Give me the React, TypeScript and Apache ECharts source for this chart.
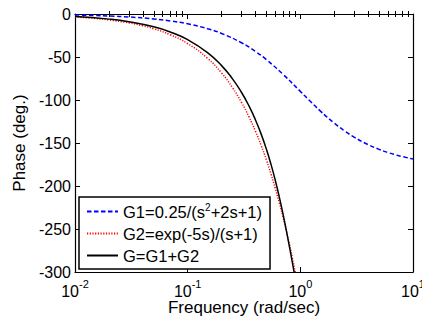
import React, { useEffect, useRef } from "react";
import * as echarts from "echarts";

// Frequencies (rad/sec) and phase readings (deg.)
const wG1 = [0.01, 0.015, 0.02, 0.03, 0.05, 0.07, 0.1, 0.15, 0.2, 0.3, 0.4, 0.5, 0.7, 1, 1.2, 1.5, 2, 2.5, 3, 4, 5, 6, 7, 8, 10];
const phaseG1 = [-1.15, -1.72, -2.29, -3.44, -5.72, -8.01, -11.42, -17.06, -22.62, -33.4, -43.6, -53.13, -69.98, -90, -100.39, -112.62, -126.87, -136.4, -143.13, -151.93, -157.38, -161.08, -163.74, -165.75, -168.58];

const wG2 = [0.01, 0.015, 0.02, 0.03, 0.04, 0.05, 0.07, 0.1, 0.15, 0.2, 0.25, 0.3, 0.35, 0.4, 0.45, 0.5, 0.55, 0.6, 0.65, 0.7, 0.75, 0.8, 0.85, 0.9, 0.95];
const phaseG2 = [-3.44, -5.15, -6.88, -10.31, -13.75, -17.19, -24.06, -34.36, -51.5, -68.61, -85.66, -102.64, -119.56, -136.39, -153.15, -169.81, -186.37, -202.85, -219.23, -235.53, -251.73, -267.84, -283.87, -299.82, -315.69];

const wG = [0.01, 0.02, 0.03, 0.05, 0.07, 0.1, 0.15, 0.2, 0.25, 0.3, 0.35, 0.4, 0.45, 0.5, 0.55, 0.6, 0.65, 0.7, 0.75, 0.8, 0.85, 0.9];
const phaseG = [-2.98, -5.96, -8.94, -14.9, -20.87, -29.86, -44.87, -60.02, -75.39, -90.98, -106.9, -123.19, -139.98, -157.28, -175.18, -193.65, -212.61, -231.87, -251.23, -270.37, -289.06, -307.11];

const seriesNames = ["G1=0.25/(s^2+2s+1)", "G2=exp(-5s)/(s+1)", "G=G1+G2"];
const majorTicks = [0.01, 0.1, 1, 10];
const minorTicks = [0.02, 0.03, 0.04, 0.05, 0.06, 0.07, 0.08, 0.09, 0.2, 0.3, 0.4, 0.5, 0.6, 0.7, 0.8, 0.9, 2, 3, 4, 5, 6, 7, 8, 9];
const yTicks = { min: -300, max: 0, interval: 50 };

const FONT = '"Liberation Sans", Arial, sans-serif';

function zip(xs: number[], ys: number[]) {
  return xs.map((x, i) => [x, ys[i]]);
}

export default function App() {
  const ref = useRef<HTMLDivElement>(null);
  useEffect(() => {
    if (!ref.current) return;
    const chart = echarts.init(ref.current, null, { renderer: "svg" });
    const baseX = {
      type: "log" as const,
      logBase: 10,
      min: 0.01,
      max: 10,
      splitLine: { show: false },
      minorTick: { show: false },
    };
    const option = {
      animation: false,
      backgroundColor: "#fff",
      textStyle: { fontFamily: FONT },
      grid: { left: 75, right: 9, top: 14, bottom: 48, containLabel: false, outerBoundsMode: "none" },
      legend: {
        show: true,
        orient: "vertical",
        left: 79,
        top: 197,
        padding: [5, 8, 5, 7],
        itemWidth: 31,
        itemHeight: 14,
        itemGap: 5,
        borderColor: "#000",
        borderWidth: 1.5,
        backgroundColor: "#fff",
        data: seriesNames,
        itemStyle: { opacity: 0, borderWidth: 0 },
        formatter: (name: string) => name.replace("s^2", "s{sup|2}"),
        textStyle: {
          fontFamily: FONT,
          fontSize: 16.5,
          color: "#000",
          lineHeight: 17,
          rich: {
            sup: { fontSize: 10, fontFamily: FONT, color: "#000", padding: [0, 0, 9, 0] },
          },
        },
      },
      xAxis: [
        {
          ...baseX,
          position: "bottom",
          name: "Frequency (rad/sec)",
          nameLocation: "middle",
          nameGap: 27,
          nameMoveOverlap: false,
          nameTextStyle: { fontFamily: FONT, fontSize: 17, color: "#000" },
          axisLine: { show: true, onZero: false, lineStyle: { color: "#000", width: 1.2 } },
          axisTick: { show: true, inside: true, length: 5, lineStyle: { color: "#000" }, customValues: majorTicks },
          axisLabel: {
            show: true,
            margin: 6,
            customValues: majorTicks,
            formatter: (v: number) => `{b|10}{s|${Math.round(Math.log10(v))}}`,
            rich: {
              b: { fontSize: 16, fontFamily: FONT, color: "#000", verticalAlign: "bottom" },
              s: { fontSize: 11, fontFamily: FONT, color: "#000", padding: [0, 0, 10, 0], verticalAlign: "bottom" },
            },
          },
        },
        {
          ...baseX,
          position: "top",
          axisLine: { show: true, onZero: false, lineStyle: { color: "#000", width: 1.2 } },
          axisTick: { show: true, inside: true, length: 5, lineStyle: { color: "#000" }, customValues: majorTicks },
          axisLabel: { show: false },
        },
        {
          ...baseX,
          position: "bottom",
          axisLine: { show: false },
          axisTick: { show: true, inside: true, length: 3, lineStyle: { color: "#000" }, customValues: minorTicks },
          axisLabel: { show: false },
        },
        {
          ...baseX,
          position: "top",
          axisLine: { show: false },
          axisTick: { show: true, inside: true, length: 3, lineStyle: { color: "#000" }, customValues: minorTicks },
          axisLabel: { show: false },
        },
      ],
      yAxis: [
        {
          type: "value",
          ...yTicks,
          position: "left",
          name: "Phase (deg.)",
          nameLocation: "middle",
          nameGap: 42,
          nameTextStyle: { fontFamily: FONT, fontSize: 17, color: "#000" },
          splitLine: { show: false },
          axisLine: { show: true, onZero: false, lineStyle: { color: "#000", width: 1.2 } },
          axisTick: { show: true, inside: true, length: 5, lineStyle: { color: "#000" } },
          axisLabel: { show: true, margin: 4, fontSize: 16, fontFamily: FONT, color: "#000" },
        },
        {
          type: "value",
          ...yTicks,
          position: "right",
          splitLine: { show: false },
          axisLine: { show: true, onZero: false, lineStyle: { color: "#000", width: 1.2 } },
          axisTick: { show: true, inside: true, length: 5, lineStyle: { color: "#000" } },
          axisLabel: { show: false },
        },
      ],
      series: [
        {
          name: seriesNames[0],
          type: "line",
          xAxisIndex: 0,
          yAxisIndex: 0,
          data: zip(wG1, phaseG1),
          symbol: "none",
          smooth: true,
          clip: true,
          lineStyle: { color: "#0000ff", width: 1.5, type: [4.5, 2.5] },
          itemStyle: { color: "#0000ff" },
        },
        {
          name: seriesNames[1],
          type: "line",
          xAxisIndex: 0,
          yAxisIndex: 0,
          data: zip(wG2, phaseG2),
          symbol: "none",
          smooth: true,
          clip: true,
          lineStyle: { color: "#ff0000", width: 1.5, type: [1.2, 1.5] },
          itemStyle: { color: "#ff0000" },
        },
        {
          name: seriesNames[2],
          type: "line",
          xAxisIndex: 0,
          yAxisIndex: 0,
          data: zip(wG, phaseG),
          symbol: "none",
          smooth: true,
          clip: true,
          lineStyle: { color: "#000", width: 1.5 },
          itemStyle: { color: "#000" },
        },
      ],
    };
    chart.setOption(option as any);
    return () => chart.dispose();
  }, []);
  return <div ref={ref} style={{ width: 422, height: 320, position: "absolute", left: 0, top: 0 }} />;
}
